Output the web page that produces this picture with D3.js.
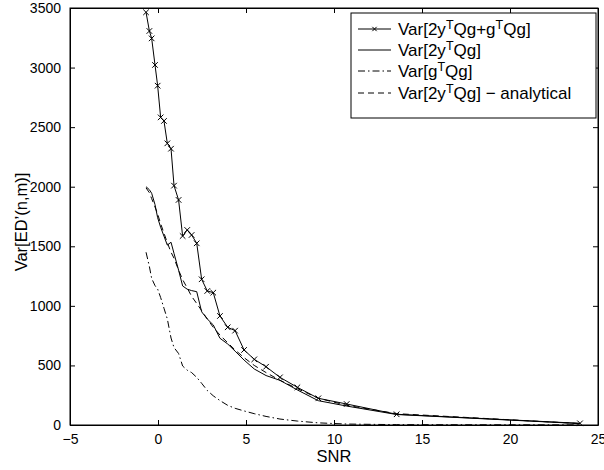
<!DOCTYPE html>
<html>
<head>
<meta charset="utf-8">
<script src="https://cdn.jsdelivr.net/npm/d3@7"></script>
<style>
  body { margin: 0; background: #fff; }
  svg { font-family: "Liberation Sans", Arial, sans-serif; }
</style>
</head>
<body>
<div class="chart"></div>
<script>
(function() {
  'use strict';

  // SNR grid shared by all series
  var snr = [-0.68, -0.49, -0.36, -0.17, -0.02, 0.15, 0.34, 0.53, 0.74, 0.91,
    1.17, 1.40, 1.66, 1.91, 2.20, 2.48, 2.80, 3.14, 3.52, 3.96,
    4.38, 4.89, 5.47, 6.14, 6.93, 7.92, 9.11, 10.72, 13.56, 23.98];

  var varTotal = [3464, 3307, 3245, 3022, 2848, 2582, 2552, 2364, 2319, 2009,
    1889, 1586, 1637, 1595, 1525, 1223, 1125, 1111, 915, 820,
    792, 630, 551, 489, 400, 316, 224, 176, 90, 14];

  var varCross = [2000, 1975, 1945, 1850, 1740, 1660, 1585, 1510, 1534, 1440,
    1300, 1167, 1140, 1128, 1119, 950, 890, 840, 728, 680,
    620, 545, 470, 415, 375, 294, 204, 159, 88, 12];

  var varQuad = [1450, 1330, 1230, 1170, 1140, 1070, 980, 890, 730, 650,
    600, 495, 460, 440, 400, 350, 290, 245, 205, 165,
    140, 118, 95, 72, 50, 33, 18, 8, 3, 1];

  var varAnalytic = [1990, 1950, 1900, 1830, 1770, 1690, 1610, 1530, 1450, 1400,
    1300, 1220, 1150, 1080, 1020, 960, 890, 820, 755, 690,
    630, 565, 500, 440, 375, 305, 225, 165, 95, 12];

  var xTicks = [-5, 0, 5, 10, 15, 20, 25];
  var yTicks = [0, 500, 1000, 1500, 2000, 2500, 3000, 3500];

  var width = 604, height = 470;
  var margin = {top: 8, right: 6, bottom: 45, left: 70};
  var w = width - margin.left - margin.right;
  var h = height - margin.top - margin.bottom;

  var svg = d3.select(".chart").append("svg")
    .attr("width", width)
    .attr("height", height);

  var g = svg.append("g")
    .attr("transform", "translate(" + margin.left + "," + margin.top + ")");

  var x = d3.scaleLinear().domain([-5, 25]).range([0, w]);
  var y = d3.scaleLinear().domain([0, 3500]).range([h, 0]);

  // axes, ticks pointing inward like matlab
  function styleAxis(sel) {
    sel.selectAll("path").attr("stroke", "#000");
    sel.selectAll("line").attr("stroke", "#000");
    sel.selectAll("text").attr("fill", "#000").style("font-size", "14px");
  }

  g.append("g")
    .attr("transform", "translate(0," + h + ")")
    .call(d3.axisBottom(x).tickValues(xTicks).tickSizeInner(-5).tickSizeOuter(0).tickPadding(9)
      .tickFormat(function(d) { return d < 0 ? "\u2212" + Math.abs(d) : String(d); }))
    .call(styleAxis);

  g.append("g")
    .call(d3.axisTop(x).tickValues(xTicks).tickSizeInner(-5).tickSizeOuter(0).tickFormat(""))
    .call(styleAxis);

  g.append("g")
    .call(d3.axisLeft(y).tickValues(yTicks).tickSizeInner(-5).tickSizeOuter(0).tickPadding(9)
      .tickFormat(function(d) { return String(d); }))
    .call(styleAxis);

  g.append("g")
    .attr("transform", "translate(" + w + ",0)")
    .call(d3.axisRight(y).tickValues(yTicks).tickSizeInner(-5).tickSizeOuter(0).tickFormat(""))
    .call(styleAxis);

  g.append("rect")
    .attr("width", w).attr("height", h)
    .attr("fill", "none").attr("stroke", "#000").attr("stroke-width", 1);

  // axis labels
  svg.append("text")
    .attr("x", margin.left + w / 2)
    .attr("y", 462)
    .attr("text-anchor", "middle")
    .style("font-size", "16.5px")
    .text("SNR");

  svg.append("text")
    .attr("transform", "translate(27,222) rotate(-90)")
    .attr("text-anchor", "middle")
    .style("font-size", "16.5px")
    .text("Var[ED\u2019(n,m)]");

  var line = d3.line()
    .x(function(d) { return x(d[0]); })
    .y(function(d) { return y(d[1]); });

  var series = [
    {vals: varTotal, dash: null, marker: true},
    {vals: varCross, dash: null, marker: false},
    {vals: varQuad, dash: "7,3,1.5,3", marker: false},
    {vals: varAnalytic, dash: "6,4", marker: false}
  ];

  var plot = g.append("g");

  series.forEach(function(s) {
    var pts = d3.zip(snr, s.vals);
    plot.append("path")
      .datum(pts)
      .attr("d", line)
      .attr("fill", "none")
      .attr("stroke", "#000")
      .attr("stroke-width", 1)
      .attr("stroke-dasharray", s.dash);

    if (s.marker) {
      plot.selectAll(null)
        .data(pts)
        .enter().append("path")
        .attr("d", d3.symbol().type(d3.symbolTimes).size(22))
        .attr("transform", function(d) { return "translate(" + x(d[0]) + "," + y(d[1]) + ")"; })
        .attr("fill", "none")
        .attr("stroke", "#000")
        .attr("stroke-width", 1);
    }
  });

  // legend
  var legendNames = [
    [["Var[2y"], ["T", true], ["Qg+g"], ["T", true], ["Qg]"]],
    [["Var[2y"], ["T", true], ["Qg]"]],
    [["Var[g"], ["T", true], ["Qg]"]],
    [["Var[2y"], ["T", true], ["Qg] \u2212 analytical"]]
  ];

  var leg = svg.append("g").attr("transform", "translate(351,13)");
  leg.append("rect")
    .attr("width", 245).attr("height", 105)
    .attr("fill", "#fff").attr("stroke", "#000").attr("stroke-width", 1);

  var rowY = [16, 37, 58, 80];

  legendNames.forEach(function(parts, i) {
    var s = series[i];
    var yy = rowY[i];
    leg.append("line")
      .attr("x1", 7).attr("x2", 40)
      .attr("y1", yy).attr("y2", yy)
      .attr("stroke", "#000").attr("stroke-width", 1)
      .attr("stroke-dasharray", s.dash);
    if (s.marker) {
      leg.append("path")
        .attr("d", d3.symbol().type(d3.symbolTimes).size(14))
        .attr("transform", "translate(23.5," + yy + ")")
        .attr("fill", "none").attr("stroke", "#000");
    }
    var t = leg.append("text")
      .attr("x", 47)
      .attr("y", yy + 6)
      .style("font-size", "17px");
    parts.forEach(function(p) {
      var ts = t.append("tspan").text(p[0]);
      if (p[1]) {
        ts.attr("dy", -6).style("font-size", "12.5px");
      } else if (t.selectAll("tspan").size() > 1) {
        ts.attr("dy", 6);
      }
    });
  });
})();
</script>
</body>
</html>
